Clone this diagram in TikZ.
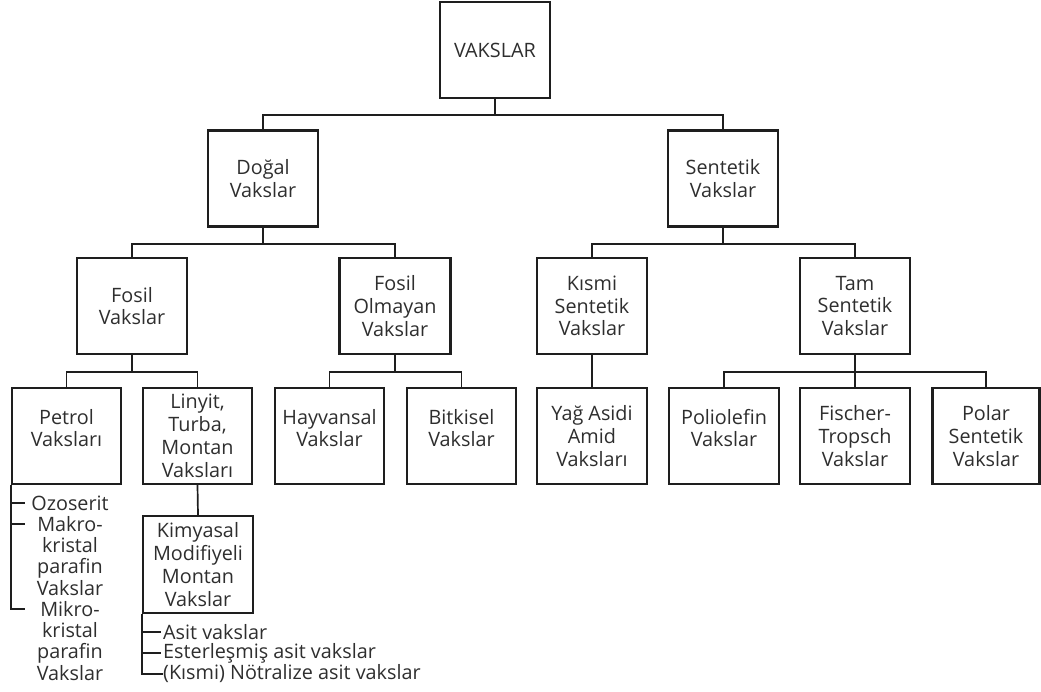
\documentclass[tikz,border=0pt]{standalone}
\usepackage{fontspec}
\setmainfont{Open Sans}
\definecolor{ink}{HTML}{1E1E1E}
\definecolor{txtc}{HTML}{2E2E2E}
\tikzset{
  box/.style={draw=ink, line width=2.3pt, minimum width=109pt, minimum height=96pt, inner sep=0pt},
  txt/.style={align=center, text=txtc, font=\fontsize{19.8}{22.8}\selectfont, inner sep=0pt},
  ltxt/.style={align=left, text=txtc, font=\fontsize{19.8}{22.8}\selectfont, inner sep=0pt, anchor=west},
  conn/.style={draw=ink, line width=1.7pt}
}
\begin{document}
\begin{tikzpicture}[x=1pt, y=-1pt]
\useasboundingbox (0,0) rectangle (1041,691);
% boxes
\node[box, minimum width=110pt] (V) at (495,50) {};
\node[txt] (Vt) at (V.center) {VAKSLAR};
\node[box, minimum width=110pt] (D) at (263,178.5) {};
\node[txt] (Dt) at (D.center) {Doğal\\Vakslar};
\node[box, minimum width=110pt] (S) at (723,178.5) {};
\node[txt] (St) at (S.center) {Sentetik\\Vakslar};
\node[box, minimum width=110pt] (F) at (132,306) {};
\node[txt] (Ft) at (F.center) {Fosil\\Vakslar};
\node[box, minimum width=111pt] (FO) at (395,306) {};
\node[txt] (FOt) at (FO.center) {Fosil\\Olmayan\\Vakslar};
\node[box, minimum width=110pt] (K) at (592,306) {};
\node[txt] (Kt) at (K.center) {Kısmi\\Sentetik\\Vakslar};
\node[box, minimum width=110pt] (T) at (855,306) {};
\node[txt] (Tt) at (T.center) {Tam\\Sentetik\\Vakslar};
\node[box] (P) at (66.5,436) {};
\node[txt] (Pt) at ([yshift=8pt]P.center) {Petrol\\Vaksları};
\node[box] (L) at (197.5,436) {};
\node[txt] (Lt) at (L.center) {Linyit,\\Turba,\\Montan\\Vaksları};
\node[box] (H) at (329.5,436) {};
\node[txt] (Ht) at ([yshift=8pt]H.center) {Hayvansal\\Vakslar};
\node[box] (B) at (461.5,436) {};
\node[txt] (Bt) at ([yshift=8pt]B.center) {Bitkisel\\Vakslar};
\node[box, minimum width=110pt] (Y) at (592,436) {};
\node[txt] (Yt) at (Y.center) {Yağ Asidi\\Amid\\Vaksları};
\node[box, minimum width=110pt] (PO) at (724,436) {};
\node[txt] (POt) at ([yshift=8pt]PO.center) {Poliolefin\\Vakslar};
\node[box, minimum width=110pt] (FT) at (855,436) {};
\node[txt] (FTt) at (FT.center) {Fischer-\\Tropsch\\Vakslar};
\node[box, minimum width=107pt] (PS) at (986,436) {};
\node[txt] (PSt) at (PS.center) {Polar\\Sentetik\\Vakslar};
\node[box, minimum width=110pt, minimum height=97pt] (KM) at (198,564.5) {};
\node[txt] (KMt) at (KM.center) {Kimyasal\\Modifiyeli\\Montan\\Vakslar};
% connectors
\draw[conn] (V.south) -- ++(0,16) -| (D.north);
\draw[conn] (V.south) ++(0,16) -| (S.north);
\draw[conn] (D.south) -- ++(0,16) -| (F.north);
\draw[conn] (D.south) ++(0,16) -| (FO.north);
\draw[conn] (S.south) -- ++(0,16) -| (K.north);
\draw[conn] (S.south) ++(0,16) -| (T.north);
\draw[conn] (F.south) -- ++(0,17) -| (P.north);
\draw[conn] (F.south) ++(0,17) -| (L.north);
\draw[conn] (FO.south) -- ++(0,17) -| (H.north);
\draw[conn] (FO.south) ++(0,17) -| (B.north);
\draw[conn] (K.south) -- (Y.north);
\draw[conn] (T.south) -- ++(0,17) -| (PO.north);
\draw[conn] (T.south) ++(0,17) -| (PS.north);
\draw[conn] (T.south) -- (FT.north);
\draw[conn] (L.south) -- (KM.north);
% Petrol list
\node[txt, font=\fontsize{19.8}{21.25}\selectfont] (plist) at (70,588)
  {Ozoserit\\Makro-\\kristal\\parafin\\Vakslar\\Mikro-\\kristal\\parafin\\Vakslar};
\coordinate (pc) at (P.south west |- 0,609);
\draw[conn] (P.south west) -- (pc) -- ++(14,0);
\draw[conn] (P.south west |- 0,503) -- ++(14,0);
\draw[conn] (P.south west |- 0,524) -- ++(14,0);
% Kimyasal list
\node[ltxt] (a1) at (163,632) {Asit vakslar};
\node[ltxt] (a2) at (163,653) {Esterleşmiş asit vakslar};
\node[ltxt] (a3) at (163,674) {(Kısmi) Nötralize asit vakslar};
\draw[conn] (KM.south west) -- (KM.south west |- a3.west) -- (a3.west);
\draw[conn] (KM.south west |- a1.west) -- ([xshift=-2pt]a1.west);
\draw[conn] (KM.south west |- a2.west) -- ([xshift=-2pt]a2.west);
\end{tikzpicture}
\end{document}
